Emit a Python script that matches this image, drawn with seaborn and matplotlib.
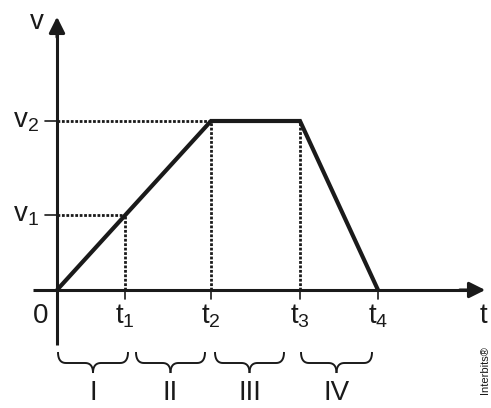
import numpy as np
import pandas as pd
import matplotlib
matplotlib.use("Agg")
import matplotlib.pyplot as plt
import seaborn as sns

# schematic velocity-time graph (arbitrary units)
t_marks = [0, 68, 154, 243, 321]          # 0, t1, t2, t3, t4
t_labels = ["0", "t_1", "t_2", "t_3", "t_4"]
v1, v2 = 75, 169
curve_t = [0, 154, 243, 321]
curve_v = [0, v2, v2, 0]
stage_names = ["I", "II", "III", "IV"]

sns.set_theme(style="white")
plt.rcParams["font.family"] = ["Liberation Sans", "DejaVu Sans"]
plt.rcParams["mathtext.fontset"] = "custom"
plt.rcParams["mathtext.rm"] = "Liberation Sans"
plt.rcParams["mathtext.it"] = "Liberation Sans"

fig = plt.figure(figsize=(4.91, 4.08), dpi=100)
ax = fig.add_axes([0, 0, 1, 1])

ink = "#1a1a1a"

# axes with arrows
ax.plot([0, 0], [-55, 262], color=ink, lw=2.2, solid_capstyle="butt")
ax.annotate("", xy=(0, 276), xytext=(0, 250),
            arrowprops=dict(arrowstyle="-|>", color=ink, lw=2.2, mutation_scale=24))
ax.plot([-24, 410], [0, 0], color=ink, lw=2.2, solid_capstyle="butt")
ax.annotate("", xy=(431, 0), xytext=(400, 0),
            arrowprops=dict(arrowstyle="-|>", color=ink, lw=2.2, mutation_scale=24))

# ticks
for tv in t_marks[1:]:
    ax.plot([tv, tv], [0, -9], color=ink, lw=1.2)
for vv in [v1, v2]:
    ax.plot([-12, 0], [vv, vv], color=ink, lw=1.2)

# dotted guides
dot = dict(color=ink, lw=2.0, linestyle=(0, (1, 0.6)))
ax.plot([0, t_marks[1]], [v1, v1], **dot)
ax.plot([t_marks[1], t_marks[1]], [0, v1], **dot)
ax.plot([0, t_marks[2]], [v2, v2], **dot)
ax.plot([t_marks[2], t_marks[2]], [0, v2], **dot)
ax.plot([t_marks[3], t_marks[3]], [0, v2], **dot)

# velocity curve
df = pd.DataFrame({"t": curve_t, "v": curve_v})
sns.lineplot(data=df, x="t", y="v", ax=ax, color=ink, lw=3.0, sort=False,
             solid_joinstyle="miter", solid_capstyle="butt")
ax.set_xlim(-57, 434)
ax.set_ylim(-118, 290)
ax.axis("off")

# labels
fs = 20
ax.text(-20, 268, "v", fontsize=fs, ha="center", va="center", color=ink)
ax.text(-18, v2, r"$\mathregular{v_2}$", fontsize=fs, ha="right", va="center", color=ink)
ax.text(-18, v1, r"$\mathregular{v_1}$", fontsize=fs, ha="right", va="center", color=ink)
for tv, lab in zip(t_marks, t_labels):
    x = tv - 17 if tv == 0 else tv
    ax.text(x, -26, r"$\mathregular{%s}$" % lab, fontsize=fs, ha="center", va="center", color=ink)
ax.text(426, -26, "t", fontsize=fs, ha="center", va="center", color=ink)


def qbez(p0, p1, p2, n=12):
    s = np.linspace(0, 1, n)[:, None]
    p0, p1, p2 = map(np.array, (p0, p1, p2))
    return (1 - s) ** 2 * p0 + 2 * (1 - s) * s * p1 + s ** 2 * p2


def brace(x0, x1, y_top, y_mid, y_tip):
    xm = (x0 + x1) / 2
    r = 8
    left = np.vstack([qbez((x0, y_top), (x0, y_mid), (x0 + r, y_mid)),
                      qbez((xm - r, y_mid), (xm, y_mid), (xm, y_tip))])
    right = np.vstack([qbez((xm, y_tip), (xm, y_mid), (xm + r, y_mid)),
                       qbez((x1 - r, y_mid), (x1, y_mid), (x1, y_top))])
    for part in (left, right):
        ax.plot(part[:, 0], part[:, 1], color=ink, lw=1.4, solid_capstyle="butt")


gaps = [(t_marks[0] + 1, t_marks[1] + 3), (t_marks[1] + 11, t_marks[2] - 6),
        (t_marks[2] + 4, t_marks[3] - 16), (t_marks[3] + 1, t_marks[4] - 6)]
for (a, b), name in zip(gaps, stage_names):
    brace(a, b, -62, -73, -83)
    ax.text((a + b) / 2, -103, name, fontsize=fs, ha="center", va="center", color=ink)

ax.text(428, -80, "Interbits®", fontsize=8, rotation=90, ha="center", va="center", color=ink)

fig.savefig("out.png", dpi=100)
